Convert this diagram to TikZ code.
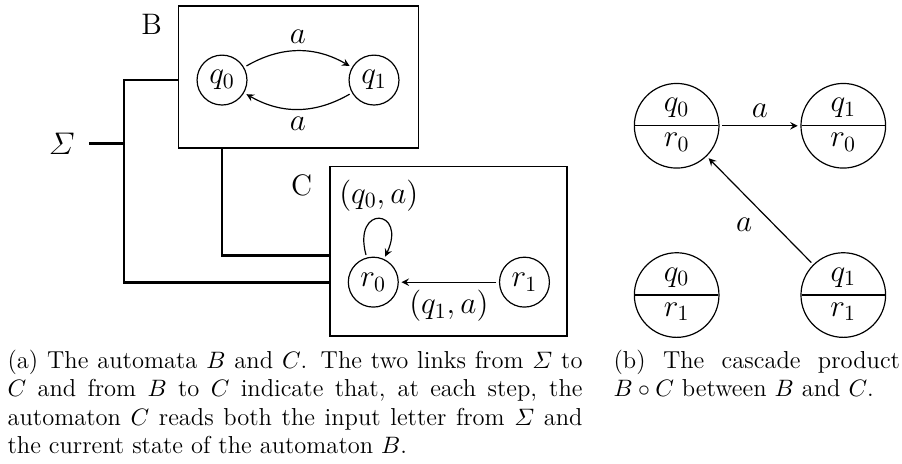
\documentclass[tikz,border=0pt]{standalone}
\usepackage{amsmath,amssymb}
\usepackage{tikz}
\usetikzlibrary{shapes.multipart,arrows}

\begin{document}
\begin{tikzpicture}[>=stealth, line width=0.55pt,
    every node/.style={font=\fontsize{13.66}{16.4}\selectfont},
    state/.style={circle,draw,minimum size=23pt,inner sep=0pt,outer sep=1.5pt},
    pair/.style={circle split,draw,minimum size=39pt,inner sep=3.3pt,outer sep=1.5pt},
    automaton/.style={draw,rectangle,inner sep=0pt},
    wire/.style={line width=1.3pt},
    caption/.style={font=\fontsize{11.3}{13.05}\selectfont,text width=265pt,align=justify,anchor=north west,inner sep=0pt}]
  \useasboundingbox (0,0) rectangle (14.61,7.50);

  % automaton B
  \node[automaton,minimum width=3.90cm,minimum height=2.30cm] (boxB) at (4.835,6.252) {};
  \node (labB) at (2.457,7.110) {B};
  \node[state] (q0) at (3.596,6.203) {$q_0$};
  \node[state] (q1) at (6.058,6.203) {$q_1$};
  \draw[->] (q0) to[bend left=30] node[above] {$a$} (q1);
  \draw[->] (q1) to[bend left=30] node[below] {$a$} (q0);

  % automaton C
  \node[automaton,minimum width=3.84cm,minimum height=2.74cm] (boxC) at (7.264,3.428) {};
  \node (labC) at (4.887,4.503) {C};
  \node[state] (r0) at (6.046,2.93) {$r_0$};
  \node[state] (r1) at (8.495,2.93) {$r_1$};
  \draw[->] (r0) to[out=105,in=65,looseness=7] node[above] {$(q_0,a)$} (r0);
  \draw[->] (r1) -- node[below] {$(q_1,a)$} (r0);

  % inputs
  \node (sigma) at (0.999,5.178) {$\varSigma$};
  \coordinate (jn) at (2.008,5.178);
  \draw[wire,shorten <=3pt] (sigma) -- (jn);
  \draw[wire] (boxB.west |- q0) -| (jn) |- (boxC.west |- r0);
  \draw[wire] (q0 |- boxB.south) |- ([yshift=-2pt]boxC.west);

  % cascade product
  \node[pair] (s00) at (10.960,5.463) {$q_0$ \nodepart{lower} $r_0$};
  \node[pair] (s10) at (13.659,5.463) {$q_1$ \nodepart{lower} $r_0$};
  \node[pair] (s01) at (10.960,2.721) {$q_0$ \nodepart{lower} $r_1$};
  \node[pair] (s11) at (13.659,2.721) {$q_1$ \nodepart{lower} $r_1$};
  \draw[->] (s00) -- node[above] {$a$} (s10);
  \draw[->] (s11) -- node[below left] {$a$} (s00);

  % captions
  \node[caption] (capA) at (0.113,1.837) {(a) The automata $B$ and $C$. The two links from $\varSigma$ to\linebreak $C$ and from $B$ to $C$ indicate that, at each step, the\linebreak automaton $C$ reads both the input letter from $\varSigma$ and\linebreak the current state of the automaton $B$.};
  \node[caption,text width=132pt] (capB) at (9.929,1.837) {(b) The cascade product\linebreak $B\circ C$ between $B$ and $C$.};
\end{tikzpicture}
\end{document}
